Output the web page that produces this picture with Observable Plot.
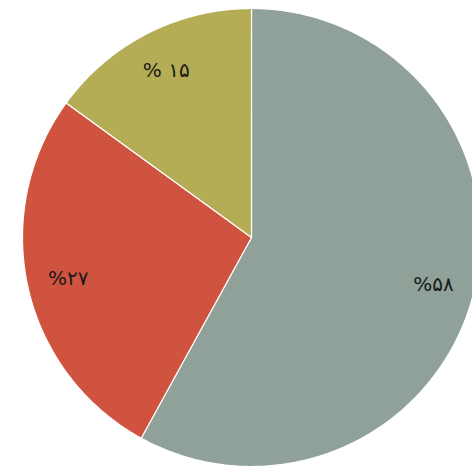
<!DOCTYPE html>
<html>
<head>
<meta charset="utf-8">
<script src="https://cdn.jsdelivr.net/npm/d3@7"></script>
<script src="https://cdn.jsdelivr.net/npm/@observablehq/plot@0.6"></script>
<style>
html, body { margin: 0; padding: 0; background: #fff; overflow: hidden; }
svg text { letter-spacing: 3px; }
</style>
</head>
<body>
<div id="chart"></div>
<script>
const categories = ["A", "B", "C"];
const values = [58, 27, 15];
const labels = ["%۵۸", "%۲۷", "% ۱۵"];
const colors = ["#90a199", "#d0533f", "#b4ad55"];

const W = 472, H = 471;
const cx = 251, cy = 237, R = 229;

const arcs = d3.pie().sort(null).value(d => d.value)(
  categories.map((c, i) => ({ category: c, value: values[i], label: labels[i] }))
);

// polygon outline for each slice (center + arc)
const poly = [];
arcs.forEach(a => {
  poly.push({ category: a.data.category, x: 0, y: 0 });
  const n = Math.max(2, Math.ceil((a.endAngle - a.startAngle) / 0.01));
  for (let k = 0; k <= n; k++) {
    const t = a.startAngle + (a.endAngle - a.startAngle) * k / n;
    poly.push({ category: a.data.category, x: Math.sin(t), y: Math.cos(t) });
  }
});

const labelPts = arcs.map(a => {
  const m = (a.startAngle + a.endAngle) / 2;
  const r = 0.82;
  return { label: a.data.label, x: r * Math.sin(m), y: r * Math.cos(m) };
});

const chart = Plot.plot({
  width: W,
  height: H,
  marginLeft: 0,
  marginRight: 0,
  marginTop: cy - R,
  marginBottom: H - (cy + R),
  x: { domain: [-cx / R, (W - cx) / R], axis: null },
  y: { domain: [-1, 1], axis: null },
  color: { domain: categories, range: colors },
  style: { background: "#fff", fontFamily: "'DejaVu Sans', sans-serif" },
  marks: [
    Plot.line(poly, {
      x: "x", y: "y", z: "category",
      fill: "category", stroke: "#fff", strokeWidth: 1.2,
      curve: "linear-closed"
    }),
    Plot.text(labelPts, {
      x: "x", y: "y", text: "label",
      fontSize: 20, fill: "#1a1a1a"
    })
  ]
});
document.getElementById("chart").appendChild(chart);
</script>
</body>
</html>
